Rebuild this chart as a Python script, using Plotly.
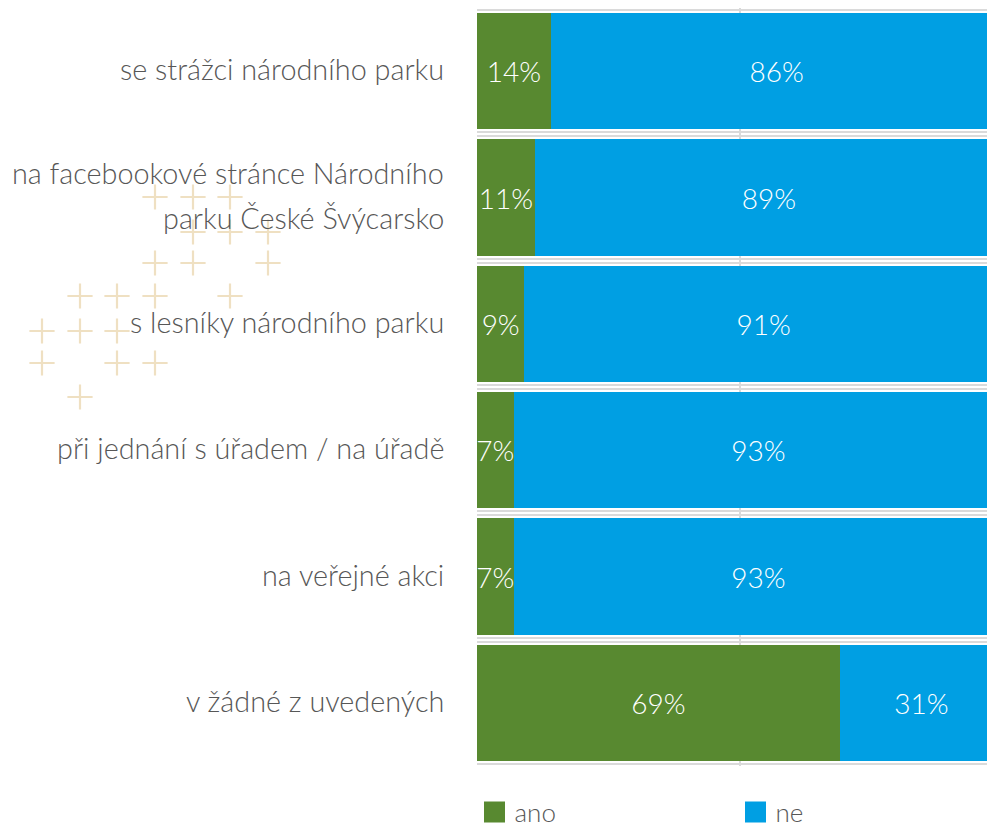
import plotly.graph_objects as go

categories = [
    "se strážci národního parku",
    "na facebookové stránce Národního<br>parku České Švýcarsko",
    "s lesníky národního parku",
    "při jednání s úřadem / na úřadě",
    "na veřejné akci",
    "v žádné z uvedených",
]
ano = [14, 11, 9, 7, 7, 69]
ne = [86, 89, 91, 93, 93, 31]
series_names = ["ano", "ne"]

GREEN = "#588930"
BLUE = "#009FE3"
FONT = "Lato"
TXT = "#575757"
GRID = "#DADADA"

# page offset of the figure (browser body margin) is compensated here
OFF = 8
W, H = 995 - OFF, 827 - OFF
PLOT_BOTTOM = 766 - OFF         # px, in figure coordinates
M_T, M_B = 0, H - PLOT_BOTTOM
X0 = 477 - OFF                  # left edge of the bar area in figure px

fig = go.Figure()
for name, vals, col in [(series_names[0], ano, GREEN), (series_names[1], ne, BLUE)]:
    fig.add_trace(go.Bar(
        y=categories, x=vals, name=name, orientation="h",
        marker=dict(color=col, line=dict(width=0)),
        text=[f"{v}%" for v in vals], textposition="inside", textangle=0,
        insidetextanchor="middle", constraintext="none",
        textfont=dict(color="white", size=28, family=FONT, weight=300),
        hoverinfo="skip", showlegend=False,
    ))
    # legend entry with a larger square swatch
    fig.add_trace(go.Scatter(
        x=[None], y=[None], name=name, mode="markers",
        marker=dict(symbol="square", size=16, color=col, line=dict(width=5, color=col)),
        showlegend=True, hoverinfo="skip",
    ))

# double category separator lines (helper numeric axis overlaying the category axis)
n_cat = len(categories)
sep = []
for b in range(n_cat + 1):
    sep += [b - 0.5 - 0.016, b - 0.5 + 0.016]
fig.add_trace(go.Scatter(x=[None], y=[None], yaxis="y3", showlegend=False, hoverinfo="skip"))

# category labels (left side)
annotations = []
for cat in categories:
    lines = cat.split("<br>")
    n = len(lines)
    for i, line in enumerate(lines):
        annotations.append(dict(
            x=X0 / W, xref="paper", xanchor="right", xshift=-31,
            y=cat, yref="y", yanchor="middle",
            yshift=(n - 1) * 22.5 - i * 45 + 2,
            text=line, showarrow=False,
            font=dict(size=28.8, color=TXT, family=FONT, weight=300),
        ))

# decorative plus signs (page pixel positions on a full-canvas helper axis)
deco_x = [155, 193, 230, 193, 230, 268, 155, 193, 268, 80, 117, 155, 230, 42, 80, 117, 42, 117, 155, 80]
deco_y = [197, 197, 197, 232, 232, 232, 263, 263, 263, 296, 296, 296, 296, 331, 331, 331, 363, 363, 363, 397]
fig.add_trace(go.Scatter(
    x=deco_x, y=deco_y, xaxis="x2", yaxis="y2", mode="markers",
    marker=dict(symbol="cross-thin", size=18, line=dict(width=2.2, color="#EFE0C2")),
    cliponaxis=False, showlegend=False, hoverinfo="skip",
))

fig.update_layout(
    width=W, height=H,
    margin=dict(l=0, r=0, t=M_T, b=M_B, autoexpand=False),
    barmode="stack", bargap=0.08,
    plot_bgcolor="rgba(0,0,0,0)", paper_bgcolor="white",
    font=dict(family=FONT, color=TXT),
    uniformtext=dict(minsize=28, mode="show"),
    xaxis=dict(domain=[X0 / W, 1], range=[0, 98.5], tickvals=[0, 50, 100], showticklabels=False,
               showgrid=True, gridcolor=GRID, gridwidth=2, zeroline=False,
               showline=False, fixedrange=True),
    yaxis=dict(autorange="reversed", showticklabels=False, showgrid=False, ticks="",
               showline=False, fixedrange=True),
    yaxis3=dict(overlaying="y", range=[n_cat - 0.5, -0.5], tickvals=sep, showticklabels=False,
                showgrid=True, gridcolor=GRID, gridwidth=2, zeroline=False, ticks="",
                fixedrange=True),
    xaxis2=dict(domain=[0, 1], anchor="y2", range=[OFF, W + OFF], visible=False,
                fixedrange=True, showgrid=False),
    yaxis2=dict(domain=[0, 1], anchor="x2", range=[PLOT_BOTTOM + OFF, OFF], visible=False,
                fixedrange=True, showgrid=False),
    legend=dict(orientation="h", x=(494.5 - OFF - 20) / W, xanchor="left",
                yref="container", y=(H - (812 - OFF)) / H, yanchor="middle",
                font=dict(size=26, color=TXT, family=FONT, weight=300),
                entrywidth=216, traceorder="normal", itemsizing="trace",
                bgcolor="rgba(0,0,0,0)"),
    annotations=annotations,
    showlegend=True,
)
fig.write_html("out.html")
